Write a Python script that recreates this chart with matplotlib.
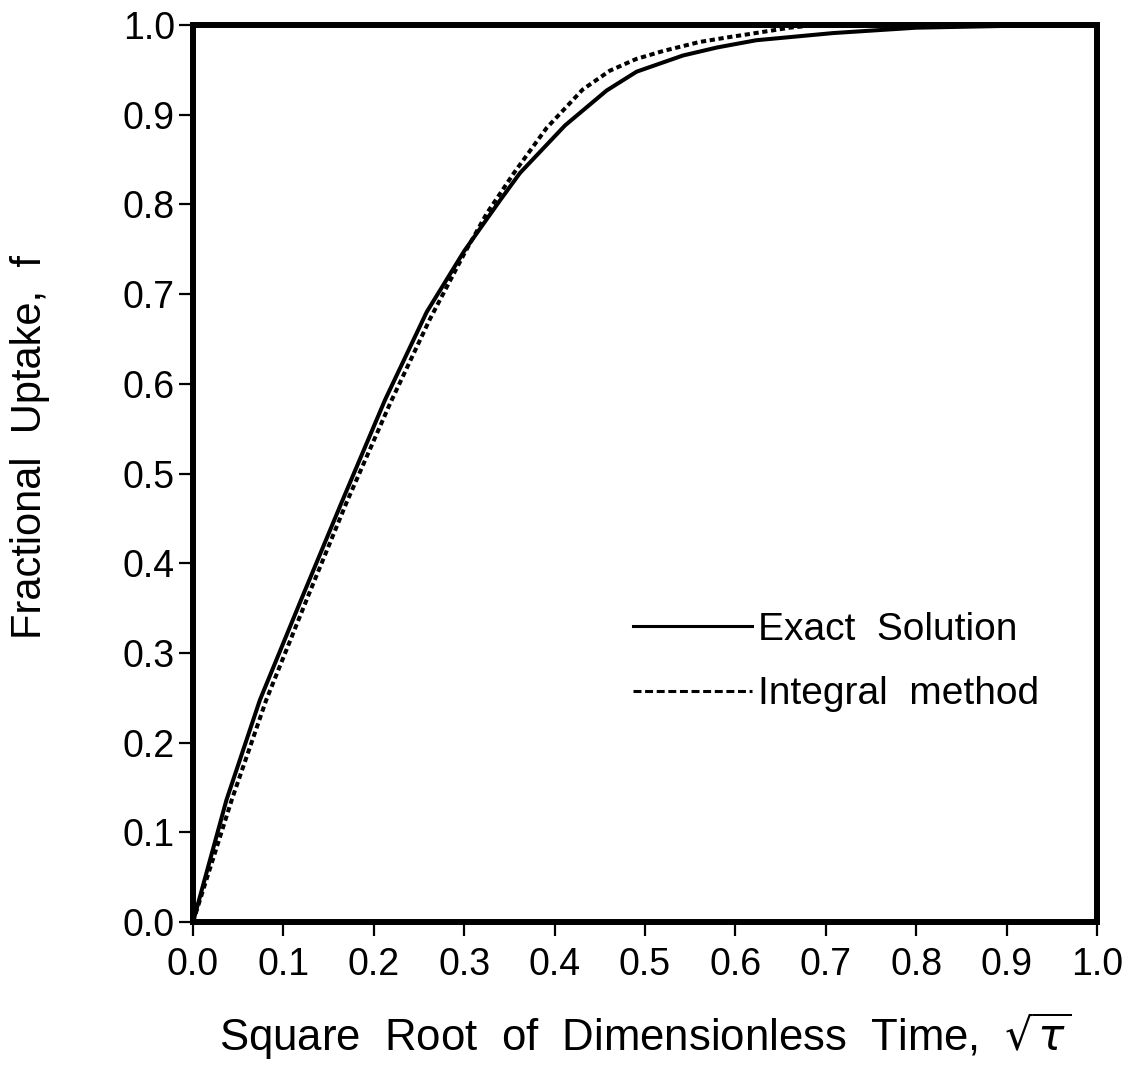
import matplotlib
matplotlib.use("Agg")
import matplotlib.pyplot as plt
from matplotlib.lines import Line2D

plt.rcParams['font.family'] = ['Liberation Sans', 'DejaVu Sans']
plt.rcParams['mathtext.fontset'] = 'dejavusans'

# Exact solution
exact_x = [0.0, 0.037, 0.074, 0.1195, 0.1645, 0.2124, 0.2585, 0.30, 0.34,
           0.3617, 0.4115, 0.4576, 0.4908, 0.542, 0.58, 0.623, 0.708, 0.80, 0.90, 1.0]
exact_f = [0.0, 0.136, 0.2475, 0.359, 0.468, 0.582, 0.68, 0.748, 0.805,
           0.835, 0.888, 0.927, 0.948, 0.966, 0.975, 0.983, 0.991, 0.997, 0.999, 1.0]

# Integral method
integ_x = [0.0, 0.0428, 0.081, 0.128, 0.170, 0.218, 0.262, 0.30, 0.325, 0.355,
           0.391, 0.431, 0.461, 0.490, 0.520, 0.560, 0.590, 0.616, 0.66, 0.69, 1.0]
integ_f = [0.0, 0.136, 0.2475, 0.365, 0.468, 0.578, 0.672, 0.745, 0.79, 0.835,
           0.885, 0.928, 0.949, 0.962, 0.971, 0.981, 0.986, 0.990, 0.997, 1.0, 1.0]

xticks = [0.0, 0.1, 0.2, 0.3, 0.4, 0.5, 0.6, 0.7, 0.8, 0.9, 1.0]
yticks = [0.0, 0.1, 0.2, 0.3, 0.4, 0.5, 0.6, 0.7, 0.8, 0.9, 1.0]

fig = plt.figure(figsize=(11.28, 10.73), dpi=100)
ax = fig.add_axes([193/1128, 1-922/1073, (1097-193)/1128, (922-25)/1073])

ax.plot(exact_x, exact_f, color='black', lw=2.9, solid_capstyle='round',
        solid_joinstyle='round', zorder=3)
ax.plot(integ_x, integ_f, color='black', lw=2.9, dashes=(1.3, 0.9), zorder=3)

ax.set_xlim(0, 1)
ax.set_ylim(0, 1)
ax.set_xticks(xticks)
ax.set_yticks(yticks)
ax.set_xticklabels([f"{v:.1f}" for v in xticks])
ax.set_yticklabels([f"{v:.1f}" for v in yticks])
ax.tick_params(direction='out', length=10, width=1.6, labelsize=27, color='black')
ax.tick_params(axis='x', pad=8)
ax.tick_params(axis='y', pad=3)

for s in ax.spines.values():
    s.set_linewidth(4.3)

ax.set_xlabel(r"Square  Root  of  Dimensionless  Time,  $\sqrt{\tau}$", fontsize=31.5, labelpad=20)
ax.set_ylabel("Fractional  Uptake,  f", fontsize=30)
ax.yaxis.set_label_coords(-0.158, 0.53)

handles = [Line2D([], [], color='black', lw=2.2),
           Line2D([], [], color='black', lw=2.2, dashes=(2.6, 1.2))]
ax.legend(handles, ["Exact  Solution", "Integral  method"], loc='upper left',
          bbox_to_anchor=(0.487, 0.346), frameon=False, fontsize=28,
          handlelength=3.06, handletextpad=0.15, labelspacing=0.74,
          borderaxespad=0, borderpad=0)

fig.savefig("out.png", dpi=100)
